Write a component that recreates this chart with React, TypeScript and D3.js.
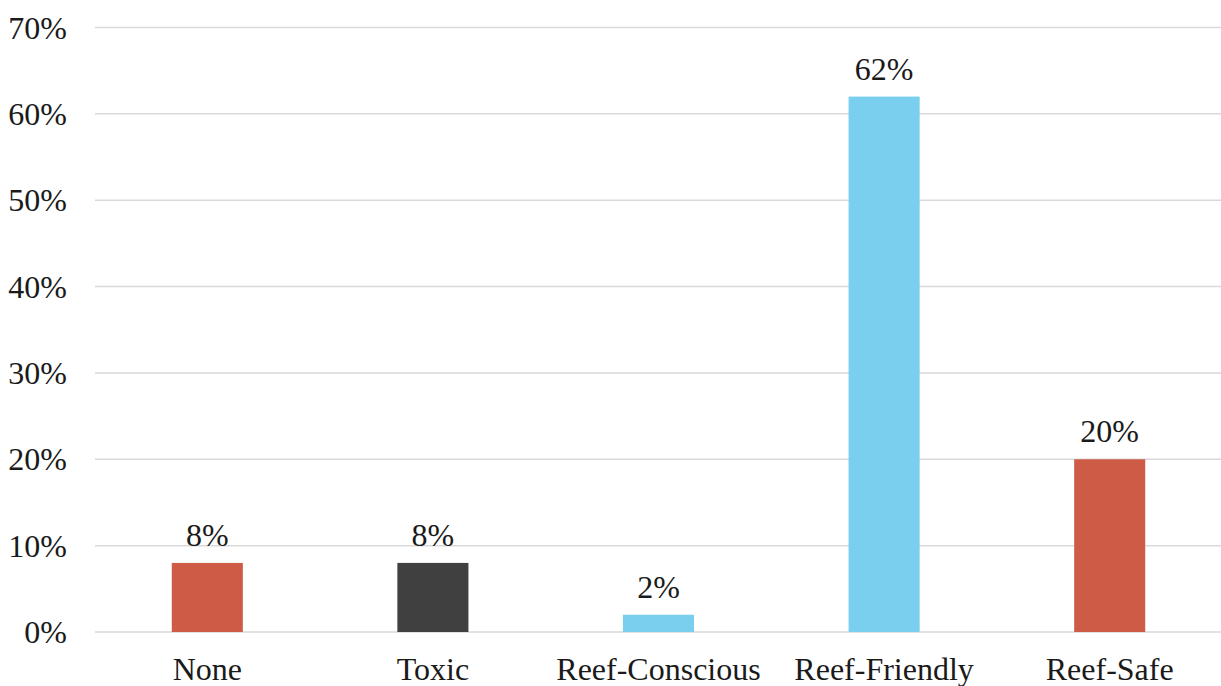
import React from "react";
import * as d3 from "d3";

const categories = ["None", "Toxic", "Reef-Conscious", "Reef-Friendly", "Reef-Safe"];
const values = [8, 8, 2, 62, 20];
const barColors = ["#CD5B45", "#404040", "#7ACFEF", "#7ACFEF", "#CD5B45"];
const yTicks = [0, 10, 20, 30, 40, 50, 60, 70];

const W = 1221;
const H = 686;
const FONT = "'Liberation Serif', 'Times New Roman', serif";

export default function App() {
  const x = d3.scaleBand<string>().domain(categories).range([94.5, 1222.5]).padding(0);
  const y = d3.scaleLinear().domain([0, 70]).range([632, 27.5]);
  const bw = x.bandwidth() * 0.315;

  return (
    <svg
      width={W}
      height={H}
      style={{ position: "absolute", left: 0, top: 0, background: "#fff" }}
      fontFamily={FONT}
    >
      {yTicks.map((t) => (
        <g key={t}>
          <line x1={95} x2={W} y1={y(t)} y2={y(t)} stroke="#d9d9d9" strokeWidth={1.5} />
          <text x={67} y={y(t) + 11} textAnchor="end" fontSize={32} fill="#1a1a1a">
            {t}%
          </text>
        </g>
      ))}
      {categories.map((c, i) => {
        const cx = (x(c) as number) + x.bandwidth() / 2;
        return (
          <g key={c}>
            <rect x={cx - bw / 2} y={y(values[i])} width={bw} height={y(0) - y(values[i])} fill={barColors[i]} />
            <text x={cx} y={y(values[i]) - 17} textAnchor="middle" fontSize={32} fill="#1a1a1a">
              {values[i]}%
            </text>
            <text x={cx} y={680} textAnchor="middle" fontSize={32} fill="#1a1a1a">
              {c}
            </text>
          </g>
        );
      })}
    </svg>
  );
}
